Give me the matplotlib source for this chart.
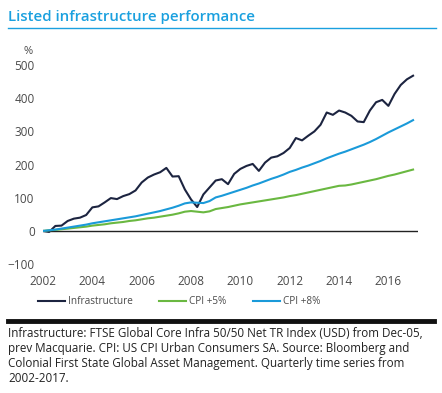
# Listed infrastructure performance chart
import numpy as np
import matplotlib
matplotlib.use("Agg")
import matplotlib.pyplot as plt
from matplotlib.lines import Line2D

plt.rcParams['font.family'] = ['Open Sans', 'DejaVu Sans']

# Quarterly time series 2002.0 - 2017.0 (cumulative %)
quarters = [2002 + q / 4 for q in range(61)]

infrastructure = [
    0, -3, 15, 16,
    30, 37, 40, 48,
    71, 74, 86, 99,
    96, 105, 111, 122,
    146, 161, 170, 177,
    190, 164, 165, 125,
    95, 72, 110, 131,
    152, 156, 141, 172,
    187, 196, 202, 181,
    206, 221, 225, 235,
    250, 280, 273, 287,
    300, 320, 357, 350,
    363, 357, 347, 330,
    328, 363, 388, 395,
    377, 413, 440, 457,
    468,
]
cpi_5 = [
    0, 2, 3, 5,
    7, 9, 11, 13,
    16, 18, 20, 23,
    25, 27, 30, 32,
    35, 38, 40, 43,
    46, 49, 53, 58,
    60, 58, 56, 59,
    66, 69, 72, 76,
    80, 83, 86, 89,
    92, 95, 98, 101,
    105, 108, 112, 116,
    120, 124, 128, 132,
    136, 137, 140, 144,
    148, 152, 156, 161,
    166, 170, 175, 180,
    185,
]
cpi_8 = [
    0, 2, 4, 7,
    10, 13, 16, 19,
    23, 26, 29, 32,
    35, 38, 41, 44,
    48, 52, 56, 60,
    65, 70, 76, 83,
    86, 85, 84, 90,
    101, 106, 112, 118,
    124, 130, 137, 143,
    150, 157, 163, 170,
    178, 184, 191, 197,
    204, 211, 219, 226,
    233, 239, 246, 253,
    260, 268, 277, 287,
    297, 306, 315, 324,
    334,
]

x_ticks = [2002, 2004, 2006, 2008, 2010, 2012, 2014, 2016]
y_ticks = [-100, 0, 100, 200, 300, 400, 500]

navy = '#1c2440'
green = '#6ab841'
blue = '#1a9ad9'
title_blue = '#1aa0df'
grey = '#4a4a4a'

fig = plt.figure(figsize=(4.42, 3.93), dpi=100)
ax = fig.add_axes([43 / 442, 0.328, 375 / 442, 0.5064])

ax.plot(quarters, infrastructure, color=navy, lw=1.5, label='Infrastructure')
ax.plot(quarters, cpi_5, color=green, lw=1.5, label='CPI +5%')
ax.plot(quarters, cpi_8, color=blue, lw=1.5, label='CPI +8%')
ax.axhline(0, color='#222222', lw=1.0, zorder=1)

ax.set_xlim(2002, 2017.2)
ax.set_ylim(-100, 500)
ax.set_xticks(x_ticks)
ax.set_yticks(y_ticks)
ax.tick_params(length=0, labelsize=8.5, colors=grey)
ax.tick_params(axis='y', pad=6)
ax.tick_params(axis='x', pad=8)
for s in ax.spines.values():
    s.set_visible(False)

ax.text(-0.04, 1.07, '%', transform=ax.transAxes, fontsize=8, color=grey,
        ha='center', va='center')

# Title and rules
fig.text(8 / 442, 1 - 17 / 393, 'Listed infrastructure performance',
         fontsize=10.8, fontweight='semibold', color=title_blue,
         ha='left', va='center')
fig.add_artist(Line2D([8 / 442, 436 / 442], [1 - 28 / 393] * 2,
                      color=title_blue, lw=1.0))
fig.add_artist(Line2D([8 / 442, 434 / 442], [1 - 321 / 393] * 2,
                      color='#111111', lw=3.5))

fig.legend(loc='center', bbox_to_anchor=(179 / 442, 1 - 302 / 393), ncol=3,
           frameon=False, fontsize=7.2, handlelength=2.7, columnspacing=2.6,
           handletextpad=0.35, labelcolor=grey)

note = ("Infrastructure: FTSE Global Core Infra 50/50 Net TR Index (USD) from Dec-05,\n"
        "prev Macquarie. CPI: US CPI Urban Consumers SA. Source: Bloomberg and\n"
        "Colonial First State Global Asset Management. Quarterly time series from\n"
        "2002-2017.")
fig.text(8 / 442, 1 - 327 / 393, note, fontsize=8.4, color='#222222',
         ha='left', va='top', linespacing=1.2)

fig.savefig('out.png', dpi=100)
